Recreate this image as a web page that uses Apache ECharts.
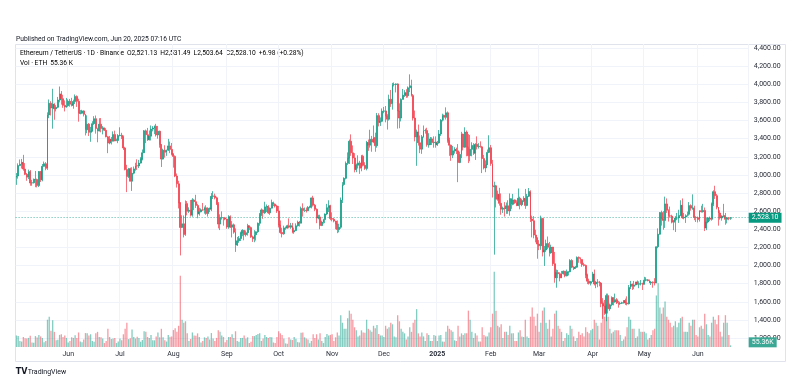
<!DOCTYPE html>
<html><head><meta charset="utf-8">
<script src="https://cdn.jsdelivr.net/npm/echarts@6/dist/echarts.min.js"></script>
<style>html,body{margin:0;padding:0;background:#fff}#c{width:807px;height:387px}</style>
</head><body><div id="c"></div>
<script>
// Daily ETH/USDT candles, 2024-05-02 .. 2025-06-20
const startDate = [2024, 4, 2];   // 2 May 2024
const axisDays = 425;             // axis runs to 30 Jun 2025
const opens = [
2970,2988,3103,3117,3137,3064,3006,2974,3037,2910,2913,2950,2950,2882,3037,2946,3094,3123,3072,3662,3789,3738,3780,3728,3746,3826,3892,3841,3767,3748,
3763,3813,3780,3767,3810,3866,3812,3679,3680,3706,3668,3497,3560,3469,3481,3565,3620,3512,3483,3559,3512,3518,3492,3420,3351,3393,3371,3445,3374,3380,
3434,3437,3421,3297,3059,2981,3067,2930,3019,3066,3101,3098,3130,3175,3244,3486,3443,3388,3427,3505,3517,3537,3441,3482,3335,3174,3273,3249,3272,3320,3281,
3231,3204,2987,2902,2689,2420,2460,2341,2683,2598,2610,2556,2723,2704,2663,2570,2592,2614,2612,2636,2573,2631,2622,2763,2768,2747,2682,2457,2528,2528,2525,
2513,2425,2538,2423,2449,2368,2225,2272,2297,2359,2388,2340,2362,2439,2418,2316,2295,2339,2372,2466,2562,2613,2582,2647,2651,2581,2633,2695,2677,2657,
2602,2448,2364,2349,2415,2414,2440,2423,2440,2370,2386,2438,2476,2467,2630,2607,2611,2605,2642,2647,2746,2666,2620,2524,2536,2441,2479,2507,2568,2638,2659,
2518,2511,2490,2457,2397,2422,2722,2894,2962,3127,3183,3371,3243,3187,3058,3107,3132,3074,3206,3105,3071,3357,3327,3392,3362,3413,3322,3654,3579,3591,
3703,3706,3647,3614,3835,3785,3997,3997,4004,3706,3627,3833,3880,3906,3874,3961,3983,3875,3627,3419,3473,3354,3284,3420,3489,3489,3333,3333,3397,3356,3362,
3332,3353,3451,3604,3657,3635,3685,3379,3327,3218,3266,3281,3265,3136,3225,3450,3305,3472,3306,3212,3282,3325,3239,3337,3311,3316,3309,3180,3077,3113,3248,
3300,3125,2869,2880,2731,2786,2686,2621,2633,2629,2659,2602,2738,2675,2724,2693,2663,2743,2671,2716,2740,2663,2763,2817,2513,2494,2336,2307,
2237,2217,2519,2149,2171,2242,2201,2139,2203,2020,1866,1922,1909,1863,1910,1937,1886,1926,1931,2056,1981,1966,1982,2089,2079,2066,2009,2001,1896,1827,1804,
1822,1905,1796,1817,1816,1806,1580,1553,1473,1668,1522,1566,1645,1597,1623,1588,1578,1584,1589,1613,1587,1578,1757,1795,1770,1786,1818,1793,1799,1799,
1794,1838,1842,1833,1808,1816,1812,1809,2207,2345,2584,2514,2497,2680,2609,2548,2545,2478,2497,2524,2525,2553,2664,2527,2534,2550,2565,2661,2633,2633,2530,
2528,2508,2605,2593,2608,2415,2480,2524,2510,2680,2815,2771,2643,2579,2524,2546,2548,2510,2525,2521.13
];
const closes = [
2988,3103,3117,3137,3064,3006,2974,3037,2910,2913,2950,2950,2882,3037,2946,3094,3123,3072,3662,3789,3738,3780,3728,3746,3826,3892,3841,3767,3748,3763,
3813,3780,3767,3810,3866,3812,3679,3680,3706,3668,3497,3560,3469,3481,3565,3620,3512,3483,3559,3512,3518,3492,3420,3351,3393,3371,3445,3374,3380,3434,
3437,3421,3297,3059,2981,3067,2930,3019,3066,3101,3098,3130,3175,3244,3486,3443,3388,3427,3505,3517,3537,3441,3482,3335,3174,3273,3249,3272,3320,3281,3231,
3204,2987,2902,2689,2420,2460,2341,2683,2598,2610,2556,2723,2704,2663,2570,2592,2614,2612,2636,2573,2631,2622,2763,2768,2747,2682,2457,2528,2528,2525,2513,
2425,2538,2423,2449,2368,2225,2272,2297,2359,2388,2340,2362,2439,2418,2316,2295,2339,2372,2466,2562,2613,2582,2647,2651,2581,2633,2695,2677,2657,2602,
2448,2364,2349,2415,2414,2440,2423,2440,2370,2386,2438,2476,2467,2630,2607,2611,2605,2642,2647,2746,2666,2620,2524,2536,2441,2479,2507,2568,2638,2659,2518,
2511,2490,2457,2397,2422,2722,2894,2962,3127,3183,3371,3243,3187,3058,3107,3132,3074,3206,3105,3071,3357,3327,3392,3362,3413,3322,3654,3579,3591,3703,
3706,3647,3614,3835,3785,3997,3997,4004,3706,3627,3833,3880,3906,3874,3961,3983,3875,3627,3419,3473,3354,3284,3420,3489,3489,3333,3333,3397,3356,3362,3332,
3353,3451,3604,3657,3635,3685,3379,3327,3218,3266,3281,3265,3136,3225,3450,3305,3472,3306,3212,3282,3325,3239,3337,3311,3316,3309,3180,3077,3113,3248,3300,
3125,2869,2880,2731,2786,2686,2621,2633,2629,2659,2602,2738,2675,2724,2693,2663,2743,2671,2716,2740,2663,2763,2817,2513,2494,2336,2307,2237,
2217,2519,2149,2171,2242,2201,2139,2203,2020,1866,1922,1909,1863,1910,1937,1886,1926,1931,2056,1981,1966,1982,2089,2079,2066,2009,2001,1896,1827,1804,1822,
1905,1796,1817,1816,1806,1580,1553,1473,1668,1522,1566,1645,1597,1623,1588,1578,1584,1589,1613,1587,1578,1757,1795,1770,1786,1818,1793,1799,1799,1794,
1838,1842,1833,1808,1816,1812,1809,2207,2345,2584,2514,2497,2680,2609,2548,2545,2478,2497,2524,2525,2553,2664,2527,2534,2550,2565,2661,2633,2633,2530,2528,
2508,2605,2593,2608,2415,2480,2524,2510,2680,2815,2771,2643,2579,2524,2546,2548,2510,2525,2521.13,2528.10
];
const highs = [
3020,3127,3170,3176,3221,3130,3021,3058,3053,2945,2960,3043,2958,3042,3043,3120,3147,3141,3690,3832,3813,3950,3790,3770,3860,3975,3925,3884,3822,3849,
3833,3838,3850,3830,3887,3877,3840,3715,3718,3712,3670,3657,3572,3529,3592,3648,3655,3520,3625,3627,3538,3522,3516,3430,3430,3418,3480,3488,3400,3450,
3525,3464,3435,3310,3111,3077,3080,3084,3092,3134,3172,3165,3195,3280,3495,3500,3518,3490,3545,3538,3545,3563,3540,3488,3340,3289,3327,3279,3397,3368,3352,
3239,3215,3015,2935,2700,2555,2552,2718,2711,2642,2723,2743,2732,2780,2680,2637,2630,2690,2650,2665,2642,2640,2799,2820,2793,2760,2700,2565,2597,2530,2536,
2517,2555,2553,2490,2463,2410,2315,2325,2373,2400,2390,2386,2460,2440,2430,2330,2390,2376,2474,2580,2630,2618,2703,2673,2666,2640,2727,2705,2685,2670,
2657,2497,2416,2440,2430,2450,2520,2470,2470,2418,2465,2495,2492,2650,2686,2640,2640,2655,2660,2750,2769,2680,2630,2560,2560,2494,2515,2574,2680,2720,2670,
2587,2524,2493,2497,2461,2750,2920,2973,3148,3248,3390,3447,3325,3240,3125,3216,3155,3220,3222,3140,3375,3390,3498,3430,3545,3466,3683,3680,3634,3733,
3750,3760,3670,3885,3937,4015,4020,4010,4010,3790,3845,3948,3935,3945,3976,4109,4050,3892,3710,3500,3555,3435,3440,3545,3510,3520,3460,3418,3415,3425,3425,
3375,3495,3615,3675,3665,3745,3700,3410,3335,3320,3305,3300,3340,3255,3475,3455,3525,3490,3450,3440,3360,3350,3350,3425,3350,3370,3320,3220,3160,3280,3437,
3330,3165,2925,2890,2826,2857,2795,2650,2700,2695,2720,2795,2740,2790,2730,2720,2850,2760,2735,2765,2845,2790,2855,2830,2550,2545,2395,2310,
2280,2550,2525,2215,2285,2320,2260,2230,2205,2150,1955,1950,1925,1940,1945,1940,1955,1935,2070,2070,1993,1995,2100,2100,2090,2070,2030,2010,1910,1855,1830,
1930,1955,1830,1850,1830,1818,1640,1620,1690,1690,1580,1660,1650,1690,1640,1610,1600,1600,1615,1635,1660,1785,1830,1800,1830,1820,1835,1825,1840,1810,
1875,1870,1850,1845,1830,1825,1860,2210,2410,2590,2605,2600,2760,2740,2620,2650,2560,2500,2545,2580,2615,2720,2740,2580,2565,2595,2700,2675,2785,2660,2545,
2540,2610,2660,2680,2640,2525,2535,2540,2695,2830,2880,2790,2645,2610,2555,2680,2580,2535,2535,2531.49
];
const lows = [
2890,2958,3095,3070,3046,2998,2935,2954,2880,2880,2905,2864,2862,2866,2921,2929,3091,3051,3055,3626,3655,3510,3608,3700,3738,3800,3775,3740,3700,3740,
3752,3752,3755,3730,3782,3750,3587,3668,3674,3645,3435,3460,3429,3365,3479,3552,3455,3360,3480,3470,3447,3484,3415,3240,3338,3335,3370,3372,3372,3350,
3425,3396,3275,3050,2810,2966,2928,2823,3006,3046,3055,3075,3125,3160,3240,3350,3375,3380,3380,3480,3450,3423,3400,3300,3087,3170,3190,3210,3265,3240,3215,
3080,2975,2860,2630,2111,2415,2310,2327,2553,2580,2540,2538,2610,2635,2521,2550,2587,2603,2572,2560,2540,2590,2600,2734,2730,2667,2410,2391,2506,2440,2500,
2405,2405,2415,2310,2351,2150,2215,2250,2270,2323,2278,2320,2330,2390,2305,2260,2257,2275,2360,2439,2544,2515,2570,2590,2570,2559,2630,2655,2640,2580,
2420,2350,2310,2340,2394,2406,2410,2405,2355,2350,2380,2430,2430,2465,2540,2590,2585,2602,2630,2630,2650,2600,2467,2510,2400,2435,2462,2467,2555,2590,2500,
2487,2476,2400,2357,2366,2405,2690,2880,2950,3110,3120,3210,3120,3028,3030,3070,3011,3040,3093,3055,3050,3265,3300,3255,3350,3255,3300,3535,3540,3581,
3680,3580,3500,3600,3750,3720,3975,3910,3510,3515,3590,3833,3860,3850,3853,3913,3864,3600,3370,3100,3323,3240,3232,3410,3455,3311,3300,3330,3330,3300,3300,
3320,3345,3430,3590,3600,3610,3355,3210,3155,3185,3234,3230,2920,3130,3185,3270,3300,3205,3130,3150,3205,3220,3165,3280,3290,3300,3020,3060,3030,3110,3240,
3100,2750,2120,2640,2715,2660,2560,2580,2540,2570,2570,2550,2625,2665,2680,2655,2655,2620,2655,2700,2625,2655,2755,2480,2310,2300,2255,2075,
2170,2173,2100,1995,2150,2180,2100,2130,1995,1810,1755,1860,1825,1860,1900,1870,1880,1890,1925,1970,1950,1965,1975,2030,2020,1985,1990,1860,1795,1790,1780,
1820,1780,1750,1760,1770,1540,1411,1455,1385,1470,1500,1550,1560,1590,1575,1535,1565,1575,1580,1565,1560,1570,1740,1730,1740,1780,1790,1750,1780,1730,
1790,1825,1825,1805,1785,1755,1780,1805,2190,2340,2440,2395,2415,2580,2485,2530,2465,2390,2370,2500,2470,2545,2515,2510,2470,2540,2550,2605,2615,2500,2480,
2475,2485,2585,2585,2380,2390,2465,2490,2495,2655,2735,2620,2440,2505,2495,2535,2450,2465,2500,2503.64
];
// Volume in thousands of ETH
const volumesK = [
380,360,200,180,330,290,280,300,370,150,140,360,310,400,350,300,160,200,900,1000,540,880,500,220,240,400,420,330,380,300,
150,200,320,300,390,300,480,180,160,250,460,450,380,420,200,170,450,500,330,320,280,130,200,600,330,260,280,300,130,180,
280,220,420,600,800,260,290,580,330,280,340,300,170,230,520,500,330,300,400,220,220,350,480,320,600,320,220,180,400,340,350,
560,620,500,700,2350,900,800,850,450,200,260,480,380,370,450,330,150,200,320,300,350,250,460,280,200,300,550,500,380,330,160,
230,330,330,420,300,520,200,170,300,300,380,280,320,130,170,360,360,400,430,450,200,280,400,330,300,330,320,150,130,330,
520,450,400,280,120,110,320,250,230,330,270,160,150,470,480,320,280,250,120,200,420,300,420,250,450,200,130,330,430,380,400,
420,200,320,480,380,1050,800,600,600,950,1200,1100,900,650,550,350,380,550,480,470,900,600,550,500,700,620,730,430,380,380,
330,700,600,650,800,750,350,320,1050,850,600,500,450,250,350,650,500,800,900,1250,450,350,480,350,200,450,400,200,200,400,370,
200,380,400,180,170,500,700,600,550,500,220,200,700,350,450,400,450,450,1200,900,500,300,450,380,180,180,650,400,350,350,480,
650,1100,2480,1200,700,650,750,300,500,500,400,700,450,450,200,200,480,550,350,330,900,350,300,1000,1300,1000,700,1100,
500,800,1200,1300,800,600,900,350,600,1100,1200,700,600,500,200,300,450,400,700,600,350,200,300,500,400,450,350,650,500,450,550,
600,900,800,700,250,800,1500,1000,1400,1000,600,450,500,550,550,550,400,200,250,350,650,1000,900,600,600,300,350,600,500,500,
500,450,250,300,400,550,600,1700,2100,1300,1100,1300,1500,1000,900,800,650,700,850,650,800,950,1000,500,500,500,800,700,900,900,400,
350,650,700,600,1100,750,400,350,800,1000,900,750,1050,500,350,800,1050,800,400,55.36
];
const monthNames = ['Jan','Feb','Mar','Apr','May','Jun','Jul','Aug','Sep','Oct','Nov','Dec'];
const priceMin = 1200, priceMax = 4400, priceStep = 200;
const lastClose = 2528.10;
const lastVolumeK = 55.36;

const UP = '#089981', DOWN = '#F23645';
const FONT = 'Roboto, "Noto Sans", sans-serif';

const dates = [];
{
  const d = new Date(Date.UTC(startDate[0], startDate[1], startDate[2]));
  for (let i = 0; i < axisDays; i++) {
    dates.push(d.toISOString().slice(0, 10));
    d.setUTCDate(d.getUTCDate() + 1);
  }
}
const candleData = closes.map((c, i) => [opens[i], c, lows[i], highs[i]]);
const volData = volumesK.map((v, i) => ({
  value: v,
  itemStyle: { color: closes[i] >= opens[i] ? 'rgba(8,153,129,0.5)' : 'rgba(242,54,69,0.5)' }
}));
const isMonthStart = (idx, val) => val.slice(8, 10) === '01';
const fmtPrice = v => v.toLocaleString('en-US', { minimumFractionDigits: 2, maximumFractionDigits: 2 });

const chart = echarts.init(document.getElementById('c'), null, { renderer: 'canvas' });
const gridL = 15.6, gridR = 58.3;
const HF = 6.7;
const hdrRich = {
  t: { fontSize: HF, fontFamily: FONT, color: '#131722' },
  g: { fontSize: HF, fontFamily: FONT, color: UP },
  v: { fontSize: HF, fontFamily: FONT, color: '#22ab94' },
  s: { fontSize: HF, fontFamily: FONT, width: 3 }
};
chart.setOption({
  animation: false,
  backgroundColor: '#ffffff',
  textStyle: { fontFamily: FONT },
  grid: [
    { left: gridL, right: gridR, top: 48, bottom: 49 },
    { left: gridL, right: gridR, top: 44, bottom: 40 }
  ],
  xAxis: [
    { type: 'category', gridIndex: 0, data: dates, boundaryGap: true,
      axisLine: { show: false }, axisTick: { show: false }, axisLabel: { show: false }, splitLine: { show: false } },
    { type: 'category', gridIndex: 1, data: dates, boundaryGap: true,
      axisLine: { show: false }, axisTick: { show: false },
      axisLabel: { interval: isMonthStart, margin: 4, fontSize: 7, color: '#2a2e39', fontFamily: FONT,
        formatter: v => { const m = +v.slice(5, 7); return m === 1 ? '{y|' + v.slice(0, 4) + '}' : monthNames[m - 1]; },
        rich: { y: { fontWeight: 'bold', fontSize: 7, color: '#2a2e39', fontFamily: FONT } } },
      splitLine: { show: true, interval: isMonthStart, lineStyle: { color: '#f0f3fa', width: 1 } } }
  ],
  yAxis: [
    { type: 'value', gridIndex: 0, position: 'right', min: priceMin, max: priceMax, interval: priceStep, scale: false,
      axisLine: { show: false }, axisTick: { show: false },
      axisLabel: { formatter: fmtPrice, fontSize: 7, color: '#2a2e39', align: 'right', margin: 32, fontFamily: FONT },
      splitLine: { show: true, lineStyle: { color: '#f0f3fa', width: 1 } } },
    { type: 'value', gridIndex: 1, min: 0, max: 10000, show: false, splitLine: { show: false } }
  ],
  series: [
    { type: 'bar', xAxisIndex: 1, yAxisIndex: 1, data: volData, barWidth: 1.3, z: 1, silent: true,
      markLine: { silent: true, symbol: ['none', 'none'], animation: false,
        lineStyle: { color: 'rgba(0,0,0,0)', width: 0 },
        label: { show: true, position: 'end', distance: 0, offset: [0, -3], formatter: () => lastVolumeK.toFixed(2) + 'K',
          color: '#fff', backgroundColor: '#3aa895', padding: [2, 3, 1, 3], fontSize: 7, fontFamily: FONT },
        data: [{ yAxis: lastVolumeK }] } },
    { type: 'candlestick', xAxisIndex: 0, yAxisIndex: 0, data: candleData, barWidth: 1.4, z: 3, silent: true,
      itemStyle: { color: UP, color0: DOWN, borderColor: UP, borderColor0: DOWN, borderWidth: 0.7 },
      markLine: { silent: true, symbol: ['none', 'none'], animation: false,
        lineStyle: { color: UP, type: [1, 2], width: 1, opacity: 0.7 },
        label: { show: true, position: 'end', distance: 0, formatter: () => fmtPrice(lastClose),
          color: '#fff', backgroundColor: UP, padding: [2, 3, 1, 3], fontSize: 7, fontFamily: FONT, opacity: 1 },
        data: [{ yAxis: lastClose }] } }
  ],
  graphic: [
    { type: 'rect', z: 0, silent: true, shape: { x: 15.5, y: 44.5, width: 770, height: 317 },
      style: { fill: 'none', stroke: '#e0e3eb', lineWidth: 1 } },
    { type: 'text', x: 16, y: 39, style: { text: 'Published on TradingView.com, Jun 20, 2025 07:16 UTC', fill: '#131722', font: HF + 'px ' + FONT, verticalAlign: 'middle' } },
    { type: 'text', x: 20, y: 53, style: {
        text: '{t|Ethereum / TetherUS · 1D · Binance}{s|}{t|O}{g|2,521.13}{s|}{t|H}{g|2,531.49}{s|}{t|L}{g|2,503.64}{s|}{t|C}{g|2,528.10}{s|}{g|+6.98 (+0.28%)}',
        rich: hdrRich, verticalAlign: 'middle' } },
    { type: 'text', x: 20, y: 63.5, style: { text: '{t|Vol · ETH}{s|}{v|55.36 K}', rich: hdrRich, verticalAlign: 'middle' } },
    { type: 'text', x: 15.7, y: 372, style: { text: 'TV', fill: '#131722', font: 'bold 8px "DejaVu Sans", sans-serif', verticalAlign: 'middle' } },
    { type: 'text', x: 27.7, y: 372, style: { text: 'TradingView', fill: '#131722', font: '7px ' + FONT, verticalAlign: 'middle' } }
  ]
});
</script></body></html>
